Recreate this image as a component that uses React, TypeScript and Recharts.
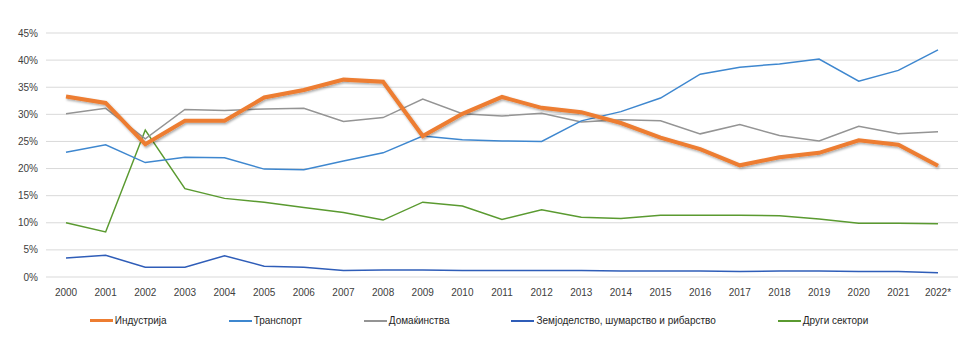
import { LineChart, Line, XAxis, YAxis, CartesianGrid, Legend } from "recharts"

const years = [
  "2000", "2001", "2002", "2003", "2004", "2005", "2006", "2007", "2008", "2009", "2010", "2011",
  "2012", "2013", "2014", "2015", "2016", "2017", "2018", "2019", "2020", "2021", "2022*",
]

const industrija = [33.3, 32.1, 24.5, 28.8, 28.8, 33.1, 34.5, 36.4, 36.0, 26.0, 30.1, 33.2, 31.2, 30.4, 28.4, 25.7, 23.6, 20.6, 22.1, 22.9, 25.2, 24.4, 20.5]
const transport = [23.0, 24.4, 21.1, 22.1, 22.0, 19.9, 19.8, 21.4, 22.9, 26.0, 25.3, 25.1, 25.0, 28.8, 30.5, 33.0, 37.4, 38.7, 39.3, 40.2, 36.1, 38.1, 41.9]
const domakinstva = [30.1, 31.1, 25.5, 30.9, 30.7, 31.0, 31.1, 28.7, 29.4, 32.8, 30.1, 29.7, 30.2, 28.6, 29.0, 28.8, 26.4, 28.1, 26.1, 25.1, 27.8, 26.4, 26.8]
const zemjodelstvo = [3.5, 4.0, 1.8, 1.8, 3.9, 2.0, 1.8, 1.2, 1.3, 1.3, 1.2, 1.2, 1.2, 1.2, 1.1, 1.1, 1.1, 1.0, 1.1, 1.1, 1.0, 1.0, 0.8]
const drugi = [10.0, 8.3, 27.1, 16.3, 14.5, 13.8, 12.8, 11.9, 10.5, 13.8, 13.1, 10.6, 12.4, 11.0, 10.8, 11.4, 11.4, 11.4, 11.3, 10.7, 9.9, 9.9, 9.8]

const yTicks = [0, 5, 10, 15, 20, 25, 30, 35, 40, 45]

const series = [
  { key: "industrija", name: "Индустрија", color: "#ED7D31", width: 4 },
  { key: "transport", name: "Транспорт", color: "#3E87CF", width: 1.5 },
  { key: "domakinstva", name: "Домаќинства", color: "#949494", width: 1.5 },
  { key: "zemjodelstvo", name: "Земјоделство, шумарство и рибарство", color: "#2F5DB8", width: 1.5 },
  { key: "drugi", name: "Други сектори", color: "#5A9A30", width: 1.5 },
]

const data = years.map((year, i) => ({
  year,
  industrija: industrija[i],
  transport: transport[i],
  domakinstva: domakinstva[i],
  zemjodelstvo: zemjodelstvo[i],
  drugi: drugi[i],
}))

const font = "'Liberation Sans', Arial, sans-serif"

function LegendBox() {
  return (
    <div
      style={{
        display: "flex",
        justifyContent: "center",
        gap: 62,
        fontFamily: font,
        fontSize: 10,
        lineHeight: "13px",
        color: "#262626",
      }}
    >
      {series.map((s) => (
        <div key={s.key} style={{ display: "flex", alignItems: "center" }}>
          <span
            style={{
              display: "inline-block",
              width: 23,
              height: s.key === "industrija" ? 3 : 2,
              background: s.color,
              marginRight: 2,
            }}
          />
          {s.name}
        </div>
      ))}
    </div>
  )
}

export default function App() {
  const draw = ["drugi", "zemjodelstvo", "domakinstva", "transport", "industrija"]
  return (
    <div style={{ position: "absolute", left: 0, top: 0, width: 960, height: 353, background: "#fff" }}>
      <LineChart
        width={960}
        height={353}
        data={data}
        margin={{ top: 33, right: 2, left: 0, bottom: 8 }}
      >
        <defs>
          <filter id="shadow" x="-5%" y="-20%" width="110%" height="140%">
            <feDropShadow dx="1" dy="1.5" stdDeviation="1.2" floodColor="#000" floodOpacity="0.35" />
          </filter>
        </defs>
        <CartesianGrid vertical={false} stroke="#D9D9D9" />
        <XAxis
          dataKey="year"
          axisLine={false}
          tickLine={false}
          tickMargin={6}
          height={25}
          interval={0}
          padding={{ left: 20, right: 20 }}
          tick={{ fontSize: 10, fill: "#404040", fontFamily: font }}
        />
        <YAxis
          width={46}
          domain={[0, 45]}
          ticks={yTicks}
          axisLine={false}
          tickLine={false}
          tickSize={0}
          tickMargin={8}
          tickFormatter={(v: number) => `${v}%`}
          tick={{ fontSize: 10, fill: "#404040", fontFamily: font }}
        />
        <Legend verticalAlign="bottom" height={31} content={() => <LegendBox />} wrapperStyle={{ paddingTop: 12 }} />
        {draw.map((k) => {
          const s = series.find((x) => x.key === k)!
          return (
            <Line
              key={s.key}
              dataKey={s.key}
              name={s.name}
              stroke={s.color}
              strokeWidth={s.width}
              dot={false}
              activeDot={false}
              type="linear"
              isAnimationActive={false}
              filter={s.key === "industrija" ? "url(#shadow)" : undefined}
            />
          )
        })}
      </LineChart>
    </div>
  )
}
